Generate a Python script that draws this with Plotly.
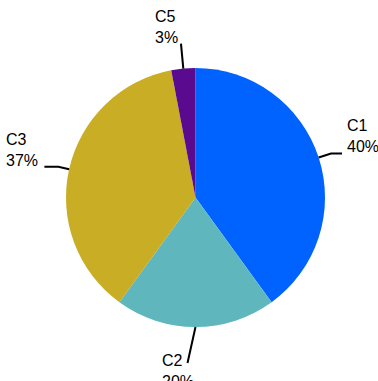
import math
import plotly.graph_objects as go

labels = ["C1", "C2", "C3", "C5"]
values = [40, 20, 37, 3]
colors = ["#0062FF", "#5FB7BD", "#C9AD24", "#5A0A8E"]

# label leader-line styling (pixels)
leader_ext = [13, 36, 11, 25]     # radial extension beyond the rim
leader_shift = [0, -8, 0, 0]       # sideways nudge of the elbow
leader_horiz = [11, 0, 14, 0]      # horizontal tail length
label_gap = [3, -8, 4, 1]          # gap between tail end and text block

W, H = 378, 381
ML, MR, MT, MB = 19, 6, 68, 54
pw, ph = W - ML - MR, H - MT - MB
cx, cy = ML + pw / 2, MT + ph / 2
R = min(pw, ph) / 2

def to_paper(px, py):
    return (px - ML) / pw, (H - MB - py) / ph

fig = go.Figure(go.Pie(
    labels=labels,
    values=values,
    sort=False,
    direction="clockwise",
    textinfo="none",
    marker=dict(colors=colors),
    showlegend=False,
    hoverinfo="label+percent",
))

total = sum(values)
cum = 0
shapes, annots = [], []
font = dict(family="Arial, Liberation Sans, sans-serif", size=16, color="black")
for i, (lab, v) in enumerate(zip(labels, values)):
    th = 2 * math.pi * (cum + v / 2) / total
    cum += v
    s, c = math.sin(th), math.cos(th)
    x0, y0 = cx + R * s, cy - R * c
    x1 = cx + (R + leader_ext[i]) * s + leader_shift[i]
    y1 = cy - (R + leader_ext[i]) * c
    side = 1 if s > 0.01 else -1
    x2, y2 = x1 + side * leader_horiz[i], y1
    p0, p1, p2 = to_paper(x0, y0), to_paper(x1, y1), to_paper(x2, y2)
    shapes.append(dict(
        type="path", xref="paper", yref="paper",
        path=f"M{p0[0]},{p0[1]} L{p1[0]},{p1[1]} L{p2[0]},{p2[1]}",
        line=dict(color="black", width=2),
    ))
    pct = round(100 * v / total)
    if c > 0:
        ty, yanchor = y2 + 4, "bottom"
    else:
        ty, yanchor = y2 - 13, "top"
    tx = x2 + side * label_gap[i]
    pa = to_paper(tx, ty)
    annots.append(dict(
        x=pa[0], y=pa[1], xref="paper", yref="paper",
        text=f"{lab}<br>{pct}%", showarrow=False,
        xanchor="left" if side > 0 else "right", yanchor=yanchor,
        align="left",
        font=font,
    ))

fig.update_layout(
    width=W, height=H,
    margin=dict(l=ML, r=MR, t=MT, b=MB),
    paper_bgcolor="white",
    shapes=shapes,
    annotations=annots,
)
fig.write_html("out.html")
